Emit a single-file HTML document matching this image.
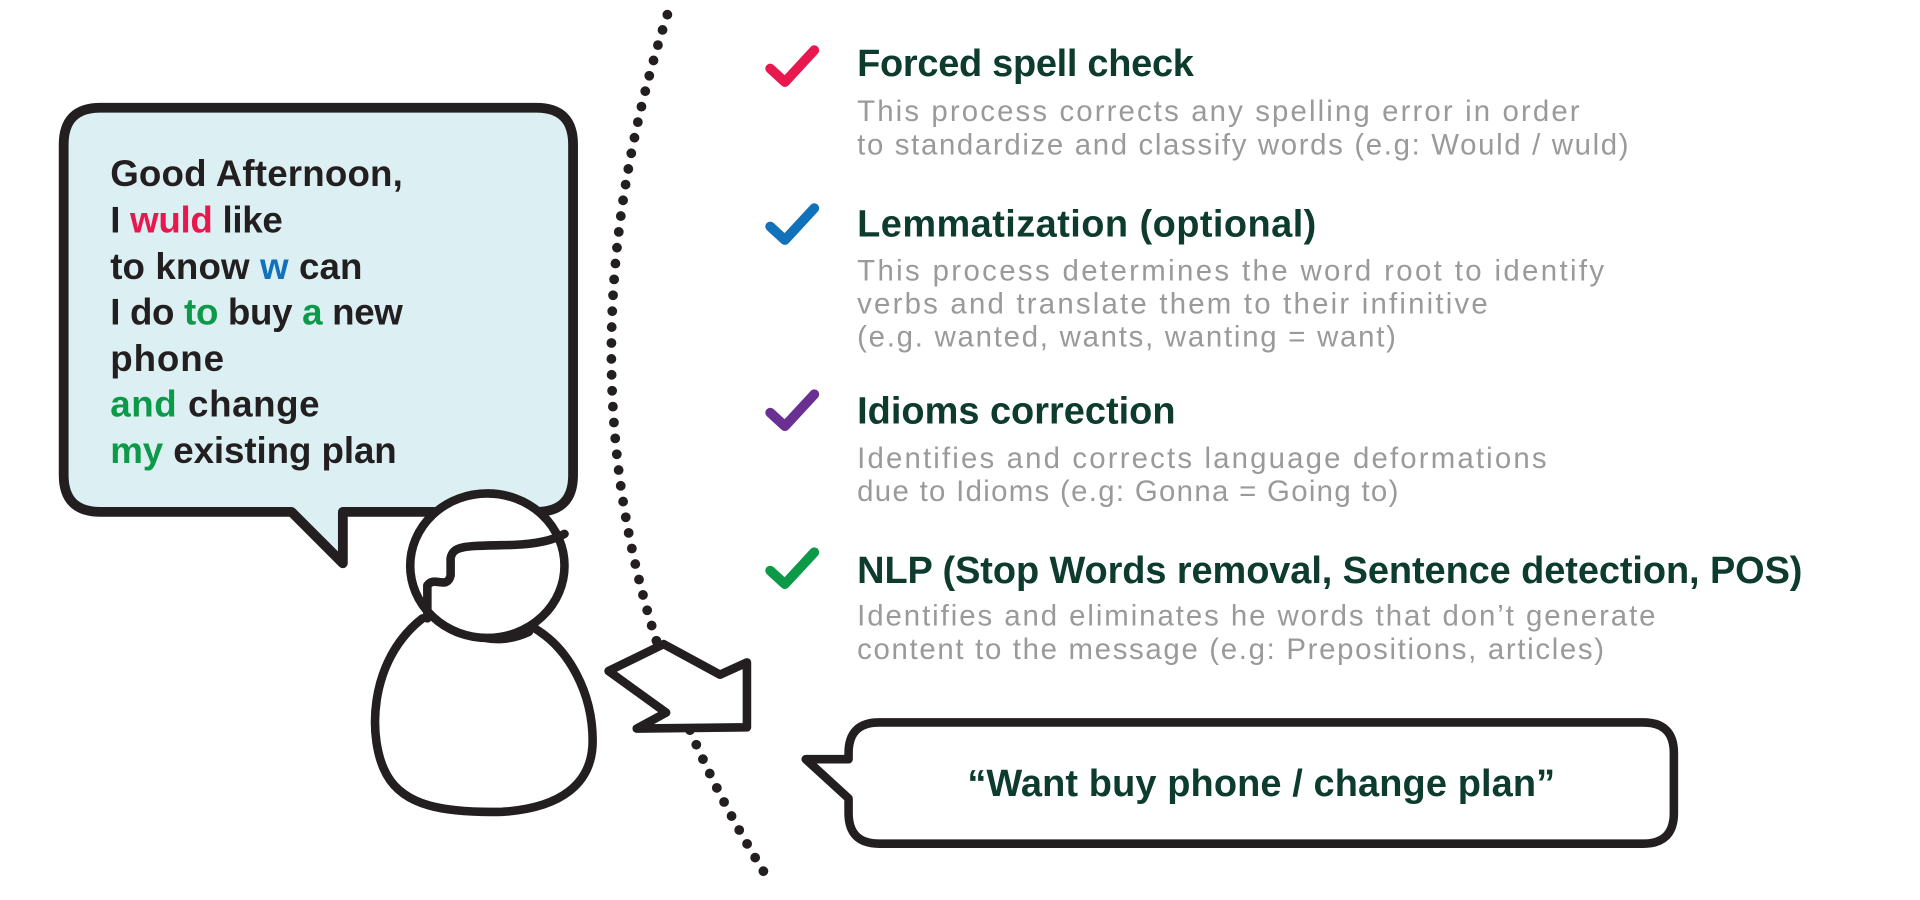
<!DOCTYPE html>
<html><head><meta charset="utf-8"><style>
html,body{margin:0;padding:0;background:#fff;width:1920px;height:900px;overflow:hidden}
svg{display:block}
.t{font-family:"Liberation Sans Narrow","Liberation Sans",sans-serif;font-weight:bold;fill:#0d3b2e;font-size:31px}
.d{font-family:"Liberation Sans",sans-serif;fill:#9a9a9a;font-size:24px}
.b{font-family:"Liberation Sans",sans-serif;font-weight:bold;fill:#231f20;font-size:30px;letter-spacing:-1px}
.r{fill:#e8184f}.bl{fill:#1171bb}.g{fill:#0d9a48}
</style></head><body>
<svg width="1920" height="900" viewBox="0 0 1568 735" xmlns="http://www.w3.org/2000/svg">
<path d="M545,12 Q422,393 630,722" fill="none" stroke="#231f20" stroke-width="8" stroke-linecap="round" stroke-dasharray="0 13"/>
<path d="M82,88 H438 Q468,88 468,118 V388 Q468,418 438,418 H280 V460 L238,418 H82 Q52,418 52,388 V118 Q52,88 82,88 Z" fill="#dcf0f4" stroke="#231f20" stroke-width="8" stroke-linejoin="round"/>
<text class="b" x="90" y="152" textLength="238">Good Afternoon,</text>
<text class="b" x="90" y="190" textLength="140">I <tspan class="r">wuld</tspan> like</text>
<text class="b" x="90" y="228" textLength="205">to know <tspan class="bl">w</tspan> can</text>
<text class="b" x="90" y="265" textLength="238">I do <tspan class="g">to</tspan> buy <tspan class="g">a</tspan> new</text>
<text class="b" x="90" y="303" textLength="92">phone</text>
<text class="b" x="90" y="340" textLength="170"><tspan class="g">and</tspan> change</text>
<text class="b" x="90" y="378" textLength="233"><tspan class="g">my</tspan> existing plan</text>
<path d="M345,505 C300,540 300,605 316,633 C330,658 362,664 410,663 C458,660 484,640 484,605 C484,565 464,530 438,514" fill="#fff" stroke="#231f20" stroke-width="7" stroke-linecap="round" stroke-linejoin="round"/>
<path d="M358,492 C372,518 402,530 432,516" fill="none" stroke="#231f20" stroke-width="7" stroke-linecap="round"/>
<ellipse cx="398" cy="462" rx="63" ry="59" fill="#fff" stroke="#231f20" stroke-width="7"/>
<path d="M349,505 V478 C355,470 365,482 368,470 V456 C370,445 380,446 420,445 C442,444 454,440 461,436" fill="none" stroke="#231f20" stroke-width="7" stroke-linecap="round" stroke-linejoin="round"/>
<polygon points="497,548 542,526 588,551 610,541 610,594 520,595 544,582" fill="#fff" stroke="#231f20" stroke-width="7" stroke-linejoin="round"/>
<g fill="none" stroke-width="8" stroke-linecap="round" stroke-linejoin="round">
<path d="M629,56 L641,67 L665,41" stroke="#e8184f"/>
<path d="M629,185 L641,196 L665,170" stroke="#1171bb"/>
<path d="M629,337 L641,348 L665,322" stroke="#6a2f93"/>
<path d="M629,466 L641,477 L665,451" stroke="#0d9a48"/>
</g>
<text class="t" x="700" y="62" textLength="275">Forced spell check</text>
<text class="d" x="700" y="99" textLength="590">This process corrects any spelling error in order</text>
<text class="d" x="700" y="126" textLength="630">to standardize and classify words (e.g: Would / wuld)</text>
<text class="t" x="700" y="193" textLength="375">Lemmatization (optional)</text>
<text class="d" x="700" y="229" textLength="610">This process determines the word root to identify</text>
<text class="d" x="700" y="256" textLength="515">verbs and translate them to their infinitive</text>
<text class="d" x="700" y="283" textLength="440">(e.g. wanted, wants, wanting = want)</text>
<text class="t" x="700" y="346" textLength="260">Idioms correction</text>
<text class="d" x="700" y="382" textLength="563">Identifies and corrects language deformations</text>
<text class="d" x="700" y="409" textLength="442">due to Idioms (e.g: Gonna = Going to)</text>
<text class="t" x="700" y="476" textLength="772">NLP (Stop Words removal, Sentence detection, POS)</text>
<text class="d" x="700" y="511" textLength="652">Identifies and eliminates he words that don’t generate</text>
<text class="d" x="700" y="538" textLength="610">content to the message (e.g: Prepositions, articles)</text>
<path d="M718,590 H1342 Q1367,590 1367,615 V664 Q1367,689 1342,689 H718 Q693,689 693,664 V652 L658,620 H693 V615 Q693,590 718,590 Z" fill="#fff" stroke="#231f20" stroke-width="7" stroke-linejoin="round"/>
<text class="t" x="790" y="650" textLength="480">“Want buy phone / change plan”</text>
</svg>
</body></html>
